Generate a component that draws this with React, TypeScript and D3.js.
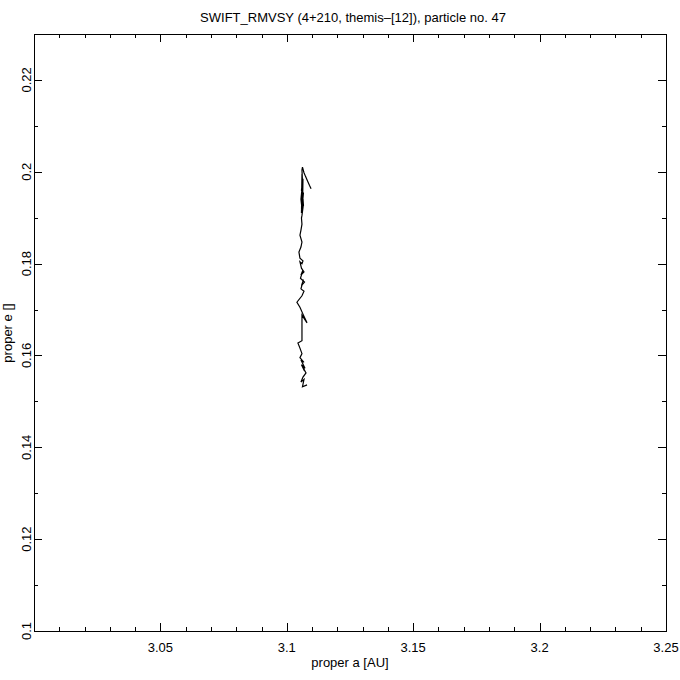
import React from "react";
import * as d3 from "d3";

const TITLE = "SWIFT_RMVSY (4+210, themis–[12]), particle no. 47";
const X_TITLE = "proper a [AU]";
const Y_TITLE = "proper e []";

const xMajorTicks = [3.05, 3.1, 3.15, 3.2, 3.25];
const xMajorLabels = ["3.05", "3.1", "3.15", "3.2", "3.25"];
const yMajorTicks = [0.1, 0.12, 0.14, 0.16, 0.18, 0.2, 0.22];
const yMajorLabels = ["0.1", "0.12", "0.14", "0.16", "0.18", "0.2", "0.22"];

// proper a / proper e trajectory (top to bottom)
const properA = [
  3.1096, 3.1090, 3.1082, 3.1074, 3.1068, 3.1062, 3.1060, 3.1062, 3.1058, 3.1064,
  3.1060, 3.1058, 3.1066, 3.1060, 3.1056, 3.1064, 3.1062, 3.1058, 3.1066, 3.1060,
  3.1058, 3.1064, 3.1058, 3.1066, 3.1060, 3.1058, 3.1060, 3.1056, 3.1052, 3.1060,
  3.1056, 3.1048, 3.1052, 3.1064, 3.1060, 3.1052, 3.1058, 3.1068, 3.1056, 3.1064,
  3.1054, 3.1070, 3.1058, 3.1066, 3.1056, 3.1068, 3.1060, 3.1040, 3.1052, 3.1064,
  3.1080, 3.1060, 3.1060, 3.1060, 3.1044, 3.1052, 3.1060, 3.1052, 3.1068, 3.1056,
  3.1072, 3.1058, 3.1070, 3.1060, 3.1076, 3.1064, 3.1056, 3.1068, 3.1062, 3.1080
];
const properE = [
  0.1963, 0.1970, 0.1980, 0.1990, 0.1998, 0.2010, 0.2004, 0.1980, 0.1960, 0.1945,
  0.1995, 0.1930, 0.1955, 0.1920, 0.1940, 0.1985, 0.1915, 0.1950, 0.1925, 0.1975,
  0.1910, 0.1938, 0.1918, 0.1930, 0.1905, 0.1899, 0.1886, 0.1873, 0.1862, 0.1847,
  0.1836, 0.1825, 0.1812, 0.1806, 0.1800, 0.1804, 0.1790, 0.1782, 0.1775, 0.1786,
  0.1768, 0.1760, 0.1752, 0.1765, 0.1745, 0.1740, 0.1730, 0.1716, 0.1705, 0.1690,
  0.1671, 0.1688, 0.1666, 0.1632, 0.1627, 0.1616, 0.1604, 0.1595, 0.1585, 0.1590,
  0.1572, 0.1580, 0.1566, 0.1578, 0.1562, 0.1553, 0.1542, 0.1548, 0.1532, 0.1536
];

const FONT = "'Liberation Sans', Arial, sans-serif";
const FS = 13;

export default function App() {
  const W = 680, H = 680;
  const left = 34, right = 666, top = 34, bottom = 631;
  const x = d3.scaleLinear().domain([3.0, 3.25]).range([left, right]);
  const y = d3.scaleLinear().domain([0.1, 0.23]).range([bottom, top]);

  const xMinor = d3.range(1, 25).filter((i) => i % 5 !== 0).map((i) => 3.0 + i * 0.01);
  const yMinor = d3.range(1, 13).filter((i) => i % 2 === 1).map((i) => 0.1 + i * 0.01);

  const pts: [number, number][] = properA.map((a, i) => [a, properE[i]]);
  const line = d3.line<[number, number]>().x((d) => x(d[0])).y((d) => y(d[1]));

  const majLen = 8, minLen = 4;
  const px = (v: number) => Math.round(x(v)) + 0.5;
  const py = (v: number) => Math.round(y(v)) + 0.5;

  return (
    <svg width={W} height={H} style={{ position: "absolute", left: 0, top: 0, background: "#fff" }}>
      <rect x={0} y={0} width={W} height={H} fill="#fff" />
      <text x={353} y={22} textAnchor="middle" fontFamily={FONT} fontSize={FS} fill="#000">{TITLE}</text>
      <g shapeRendering="crispEdges" stroke="#000" strokeWidth={1}>
        <rect x={left + 0.5} y={top + 0.5} width={right - left} height={bottom - top} fill="none" />
        {xMajorTicks.map((v) => (
          <g key={"xM" + v}>
            <line x1={px(v)} x2={px(v)} y1={bottom} y2={bottom - majLen} />
            <line x1={px(v)} x2={px(v)} y1={top} y2={top + majLen} />
          </g>
        ))}
        {xMinor.map((v) => (
          <g key={"xm" + v}>
            <line x1={px(v)} x2={px(v)} y1={bottom} y2={bottom - minLen} />
            <line x1={px(v)} x2={px(v)} y1={top} y2={top + minLen} />
          </g>
        ))}
        {yMajorTicks.map((v) => (
          <g key={"yM" + v}>
            <line x1={left} x2={left + majLen} y1={py(v)} y2={py(v)} />
            <line x1={right} x2={right - majLen} y1={py(v)} y2={py(v)} />
          </g>
        ))}
        {yMinor.map((v) => (
          <g key={"ym" + v}>
            <line x1={left} x2={left + minLen} y1={py(v)} y2={py(v)} />
            <line x1={right} x2={right - minLen} y1={py(v)} y2={py(v)} />
          </g>
        ))}
      </g>
      <path d={line(pts) || ""} fill="none" stroke="#000" strokeWidth={1.2} />
      {xMajorTicks.map((v, i) => (
        <text key={"xl" + v} x={x(v)} y={652} textAnchor="middle" fontFamily={FONT} fontSize={FS} fill="#000">{xMajorLabels[i]}</text>
      ))}
      {yMajorTicks.map((v, i) => (
        <text key={"yl" + v} transform={`translate(31,${y(v)}) rotate(-90)`} textAnchor="middle" fontFamily={FONT} fontSize={FS} fill="#000">{yMajorLabels[i]}</text>
      ))}
      <text x={350} y={667} textAnchor="middle" fontFamily={FONT} fontSize={FS} fill="#000">{X_TITLE}</text>
      <text transform={`translate(12,333) rotate(-90)`} textAnchor="middle" fontFamily={FONT} fontSize={FS} fill="#000">{Y_TITLE}</text>
    </svg>
  );
}
